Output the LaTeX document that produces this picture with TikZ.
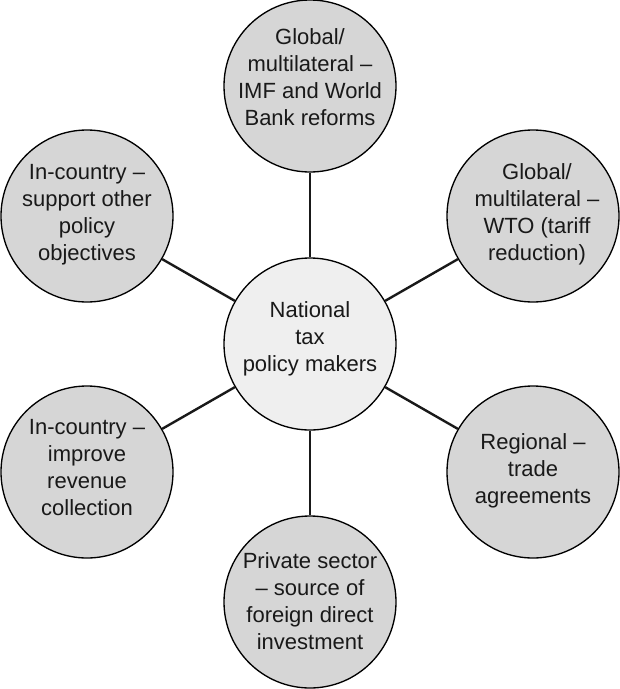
\documentclass[tikz,border=0pt]{standalone}
\usepackage{fontspec}
\setmainfont{Liberation Sans}
\definecolor{outerfill}{HTML}{D6D6D6}
\definecolor{hubfill}{HTML}{EFEFEF}
\begin{document}
\begin{tikzpicture}[x=0.75pt,y=-0.75pt,
  bubble/.style={circle,draw=black,line width=1pt,fill=outerfill,minimum size=172*0.75pt,inner sep=0pt},
  hub/.style={bubble,fill=hubfill},
  txt/.style={align=center,font=\fontsize{16.5}{20.25}\selectfont,inner sep=0pt,text=black!90},
  spoke/.style={line width=1.8pt,draw=black!90}]
\useasboundingbox (0,0) rectangle (620,689);
\node[hub] (C) at (310,344) {};
\node[bubble] (T) at (310,86) {};
\node[bubble] (TL) at (87,216) {};
\node[bubble] (TR) at (533,216) {};
\node[bubble] (BL) at (87,472) {};
\node[bubble] (BR) at (533,472) {};
\node[bubble] (B) at (310,602) {};
\foreach \n in {T,TL,TR,BL,BR,B} \draw[spoke] (C) -- (\n);
\node[txt] (tC) at ([yshift=4pt]C.center) {National\\tax\\policy makers};
\node[txt] (tT) at ([yshift=7pt]T.center) {Global/\\multilateral –\\IMF and World\\Bank reforms};
\node[txt] (tTL) at ([yshift=1pt]TL.center) {In-country –\\support other\\policy\\objectives};
\node[txt] (tTR) at ([xshift=3pt,yshift=1pt]TR.center) {Global/\\multilateral –\\WTO (tariff\\reduction)};
\node[txt] (tBL) at ([yshift=3pt]BL.center) {In-country –\\improve\\revenue\\collection};
\node[txt] (tBR) at ([yshift=1pt]BR.center) {Regional –\\trade\\agreements};
\node[txt] (tB) at ([yshift=1pt]B.center) {Private sector\\– source of\\foreign direct\\investment};
\end{tikzpicture}
\end{document}
